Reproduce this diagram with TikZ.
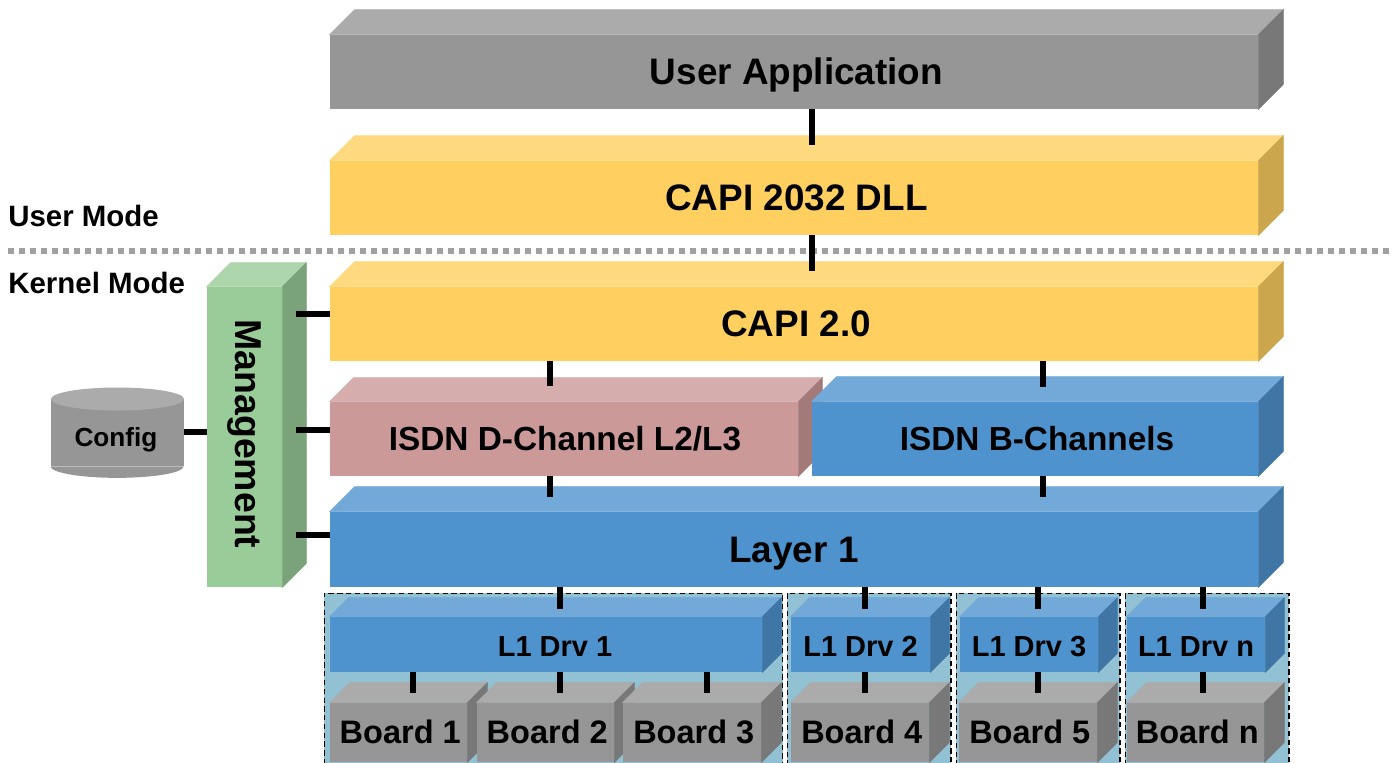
\documentclass[tikz,border=0pt]{standalone}
\usepackage{fontspec}
\setmainfont{Liberation Sans}
\usepackage{xcolor}
\usetikzlibrary{calc}
\definecolor{greyF}{HTML}{969696}
\definecolor{greyT}{HTML}{ABABAB}
\definecolor{greyS}{HTML}{787878}
\definecolor{yelF}{HTML}{FFD05F}
\definecolor{yelT}{HTML}{FFD97F}
\definecolor{yelS}{HTML}{CCA64C}
\definecolor{bluF}{HTML}{4F93CE}
\definecolor{bluT}{HTML}{72A9D8}
\definecolor{bluS}{HTML}{3F76A5}
\definecolor{pnkF}{HTML}{CC9999}
\definecolor{pnkT}{HTML}{D6ADAD}
\definecolor{pnkS}{HTML}{A37A7A}
\definecolor{grnF}{HTML}{99CC99}
\definecolor{grnT}{HTML}{ADD6AD}
\definecolor{grnS}{HTML}{7AA37A}
\definecolor{frameF}{HTML}{92C1D3}
% name, left, top, right, bottom, depth, colour, text style, text
\newcommand{\layerbox}[9]{
\node[front,fill=#7F,minimum width={(#4-#2)*0.02cm},minimum height={(#5-#3)*0.02cm},#8](#1) at ({(#2+#4)/2},{(#3+#5)/2}){#9};
\filldraw[draw=#7T,fill=#7T,line width=0.3pt] (#1.north west) -- ++(#6,-#6) -- ($(#1.north east)+(#6,-#6)$) -- (#1.north east) -- cycle;
\filldraw[draw=#7S,fill=#7S,line width=0.3pt] (#1.north east) -- ++(#6,-#6) -- ($(#1.south east)+(#6,-#6)$) -- (#1.south east) -- cycle;
}
\newcommand{\nudge}{\hspace*{0.07cm}}
\begin{document}
\begin{tikzpicture}[x=0.02cm,y=-0.02cm]
\tikzstyle{front}=[shape=rectangle,inner sep=0pt,font=\bfseries]
\tikzstyle{big}=[font=\bfseries\fontsize{21}{24}\selectfont,text height=14.7pt,text depth=0pt]
\tikzstyle{vert}=[font=\bfseries\fontsize{21.3}{24}\selectfont]
\tikzstyle{mid}=[font=\bfseries\fontsize{19}{22}\selectfont,text height=13.3pt,text depth=0pt]
\tikzstyle{brd}=[font=\bfseries\fontsize{18.5}{22}\selectfont,text height=12.9pt,text depth=0pt]
\tikzstyle{drv}=[font=\bfseries\fontsize{16.5}{20}\selectfont,text height=13.3pt,text depth=0pt]
\tikzstyle{modetxt}=[font=\bfseries\fontsize{16.75}{20}\selectfont,inner sep=0pt,anchor=west]
\tikzstyle{stub}=[line width=0.115cm,black]
\tikzstyle{drvframe}=[draw=black,densely dashed,line width=0.6pt,fill=frameF,shape=rectangle,inner sep=0pt]
\useasboundingbox (0,0) rectangle (1395,762);
%
\node[drvframe,minimum width=9.18cm,minimum height=3.8cm](f1) at (553.5,688){};
\node[drvframe,minimum width=3.28cm,minimum height=3.8cm](f2) at (869,688){};
\node[drvframe,minimum width=3.28cm,minimum height=3.8cm](f3) at (1038,688){};
\node[drvframe,minimum width=3.28cm,minimum height=3.8cm](f4) at (1207,688){};
%
\layerbox{app}{330}{35}{1258}{109}{25}{grey}{big}{\hspace*{0.1cm}User Application}
\layerbox{dll}{330}{161}{1258}{235}{25}{yel}{big}{\hspace*{0.1cm}CAPI 2032 DLL}
\layerbox{capi}{330}{287}{1258}{361}{25}{yel}{big}{\hspace*{0.08cm}CAPI 2.0}
\layerbox{dch}{330}{402}{798}{476}{24}{pnk}{mid}{\hspace*{0.04cm}ISDN D-Channel L2/L3}
\layerbox{bch}{812}{402}{1258}{476}{25}{blu}{mid}{\hspace*{0.08cm}ISDN B-Channels}
\layerbox{l1}{330}{512}{1258}{587}{25}{blu}{big}{Layer 1}
\layerbox{mgmt}{207}{287}{282}{587}{24}{grn}{vert}{\rotatebox{-90}{Management\hspace*{0.12cm}}}
%
\layerbox{drv1}{330}{617}{762}{672}{19}{blu}{drv}{}
\node[drv](drv1txt) at (555,644.5){L1 Drv 1};
\layerbox{drv2}{791}{617}{930}{672}{19}{blu}{drv}{L1 Drv 2}
\layerbox{drv3}{960}{617}{1098}{672}{19}{blu}{drv}{L1 Drv 3}
\layerbox{drvn}{1127}{617}{1265}{672}{19}{blu}{drv}{L1 Drv n}
%
\layerbox{b1}{330}{703}{467}{762}{20}{grey}{brd}{\nudge Board 1}
\layerbox{b2}{477}{703}{614}{762}{20}{grey}{brd}{\nudge Board 2}
\layerbox{b3}{623}{703}{761}{762}{20}{grey}{brd}{\nudge Board 3}
\layerbox{b4}{791}{703}{929}{762}{20}{grey}{brd}{\nudge Board 4}
\layerbox{b5}{959}{703}{1097}{762}{20}{grey}{brd}{\nudge Board 5}
\layerbox{bn}{1127}{703}{1264}{762}{20}{grey}{brd}{\nudge Board n}
%
\node[front,fill=greyF,minimum width=2.66cm,minimum height=1.34cm](cfg) at (117.5,432.5){};
\fill[greyF] (cfg.south west) arc[start angle=180,end angle=360,x radius=66.5,y radius=-11.5];
\fill[greyT] (117.5,399) ellipse[x radius=66.5,y radius=-11.5];
\node[font=\bfseries\fontsize{14.9}{18}\selectfont](cfgtxt) at (116,440){Config};
%
\draw[line width=0.12cm,color=greyF!90!white,dash pattern=on 0.12cm off 0.1cm] (8,251) -- (1392,251);
\node[modetxt](umode) at (8,216){User Mode};
\node[modetxt](kmode) at (8,283){Kernel Mode};
%
\coordinate (p1) at (812,145);
\coordinate (p2) at (812,271);
\coordinate (p3) at (550,386);
\coordinate (p4) at (1043,387);
\coordinate (p5) at (550,497);
\coordinate (p6) at (1043,497);
\coordinate (p7) at (560,609);
\coordinate (p8) at (865,609);
\coordinate (p9) at (1038,609);
\coordinate (p10) at (1203,609);
\coordinate (p11) at (413,693);
\coordinate (p12) at (560,693);
\coordinate (p13) at (707,693);
\coordinate (p14) at (865,693);
\coordinate (p15) at (1038,693);
\coordinate (p16) at (1203,693);
\coordinate (m1) at (296,314);
\coordinate (m2) at (296,430);
\coordinate (m3) at (296,535);
\coordinate (m4) at (207,432);
%
\draw[stub] (app.south -| p1) -- (p1);
\draw[stub] (dll.south -| p2) -- (p2);
\draw[stub] (capi.south -| p3) -- (p3);
\draw[stub] (capi.south -| p4) -- (p4);
\draw[stub] (dch.south -| p5) -- (p5);
\draw[stub] (bch.south -| p6) -- (p6);
\draw[stub] (l1.south -| p7) -- (p7);
\draw[stub] (l1.south -| p8) -- (p8);
\draw[stub] (l1.south -| p9) -- (p9);
\draw[stub] (l1.south -| p10) -- (p10);
%
\draw[stub] (drv1.south -| p11) -- (p11);
\draw[stub] (drv1.south -| p12) -- (p12);
\draw[stub] (drv1.south -| p13) -- (p13);
\draw[stub] (drv2.south -| p14) -- (p14);
\draw[stub] (drv3.south -| p15) -- (p15);
\draw[stub] (drvn.south -| p16) -- (p16);
%
\draw[stub] (capi.west |- m1) -- (m1);
\draw[stub] (dch.west |- m2) -- (m2);
\draw[stub] (l1.west |- m3) -- (m3);
\draw[stub] (cfg.east |- m4) -- (m4);
\end{tikzpicture}
\end{document}
